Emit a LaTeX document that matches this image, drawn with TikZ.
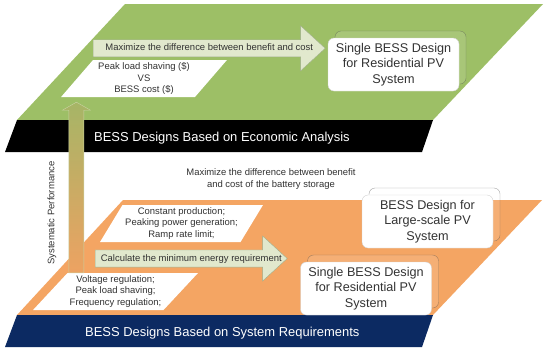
\documentclass[tikz,border=0pt]{standalone}
\usepackage{fontspec}
\setmainfont{Liberation Sans}
\usetikzlibrary{shapes.geometric, shapes.arrows, shadows, calc}

\definecolor{planegreen}{HTML}{9DBF66}
\definecolor{planeorange}{HTML}{F4A563}
\definecolor{bandnavy}{HTML}{0C2A62}
\definecolor{arrowfill}{HTML}{E1E8CD}
\definecolor{arrowline}{HTML}{9FAE8A}
\definecolor{textgrey}{HTML}{333333}
\definecolor{perftop}{HTML}{A6B566}
\definecolor{perfmid}{HTML}{CDAE5E}
\definecolor{perfbot}{HTML}{EDA262}

% text sits over the whole block arrow, head included
\newcommand{\arrowlabel}[2]{\makebox[0pt]{\hspace*{#1}#2}}

\tikzstyle{small} = [font=\fontsize{9.5}{11.5}\selectfont, text=textgrey]
\tikzstyle{goal} = [trapezium, trapezium stretches=true, fill=white, minimum height=37bp, inner sep=0pt, align=center, small]
\tikzstyle{flow} = [single arrow, draw=arrowline, fill=arrowfill, line width=0.4pt, single arrow head extend=14bp, single arrow tip angle=85, inner xsep=0pt, inner ysep=3.85bp, text height=7bp, text depth=2bp, small, anchor=west]
\tikzstyle{design} = [rectangle, rounded corners=6bp, draw=gray!35, fill=white, minimum width=131bp, minimum height=53bp, inner sep=0pt, align=center, font=\fontsize{12.7}{15.5}\selectfont, text=textgrey, copy shadow={shadow xshift=7bp, shadow yshift=7bp, fill=white, fill opacity=0.12, draw=black!70, draw opacity=0.5, line width=0.4pt}]
\tikzstyle{bandtext} = [font=\fontsize{13}{15}\selectfont, text=white, anchor=west, inner sep=0pt]

\begin{document}
\begin{tikzpicture}[x=1bp, y=-1bp]

\fill[white] (0,0) rectangle (550,352);
\useasboundingbox (0,0) rectangle (550,352);

% Planes
\fill[planegreen] (125,4) -- (543,4) -- (433,120) -- (17,120) -- cycle;
\fill[black] (17,120) -- (433,120) -- (422,152) -- (5,152) -- cycle;
\fill[planeorange] (123,200) -- (542,200) -- (433,315) -- (17,315) -- cycle;
\fill[bandnavy] (17,315) -- (433,315) -- (422,347) -- (5,347) -- cycle;

\node (econ) [bandtext] at (94,138.3) {BESS Designs Based on Economic Analysis};
\node (sysreq) [bandtext] at (85,333) {BESS Designs Based on System Requirements};

\node (goaltext) [small, align=center] at (271,179) {Maximize the difference between benefit\\and cost of the battery storage};
\node (perflabel) [small, rotate=90] at (52,213) {Systematic Performance};

% Requirements
\node (peak) [goal, trapezium left angle=48, trapezium right angle=132, minimum width=166bp] at (144,78.5) {Peak load shaving (\$)\\VS\\BESS cost (\$)};
\node (needs) [goal, trapezium left angle=56, trapezium right angle=124, minimum width=163bp] at (181.5,223.5) {Constant production;\\Peaking power generation;\\Ramp rate limit;};
\node (volt) [goal, trapezium left angle=44, trapezium right angle=136, minimum width=165bp] at (115.5,291.5) {Voltage regulation;\\Peak load shaving;\\Frequency regulation;};

% Steps
\node (maxarrow) [flow, minimum height=232bp] at (93,48.3) {\arrowlabel{9.5bp}{Maximize the difference between benefit and cost}};
\node (calcarrow) [flow, minimum height=192bp] at (95,258.5) {\arrowlabel{9.5bp}{Calculate the minimum energy requirement}};

% Designs
\node (resid) [design] at (393.5,64.5) {Single BESS Design\\for Residential PV\\System};
\node (large) [design] at (427.5,221.5) {BESS Design for\\Large-scale PV\\System};
\node (residlow) [design] at (366,288.5) {Single BESS Design\\for Residential PV\\System};

% Systematic performance arrow
\coordinate (perfbase) at ($(volt.top left corner)+(9,0)$);
\coordinate (perftip) at ($(perfbase |- peak.south)+(0,5)$);
\shade[top color=perftop, middle color=perfmid, bottom color=perfbot, draw=white!40!perftop, line width=0.4pt]
  ($(perfbase)+(-7.5,0)$) -- ($(perftip)+(-7.5,8)$) -- ($(perftip)+(-14,8)$) -- (perftip)
  -- ($(perftip)+(14,8)$) -- ($(perftip)+(7.5,8)$) -- ($(perfbase)+(7.5,0)$) -- cycle;

\end{tikzpicture}
\end{document}
